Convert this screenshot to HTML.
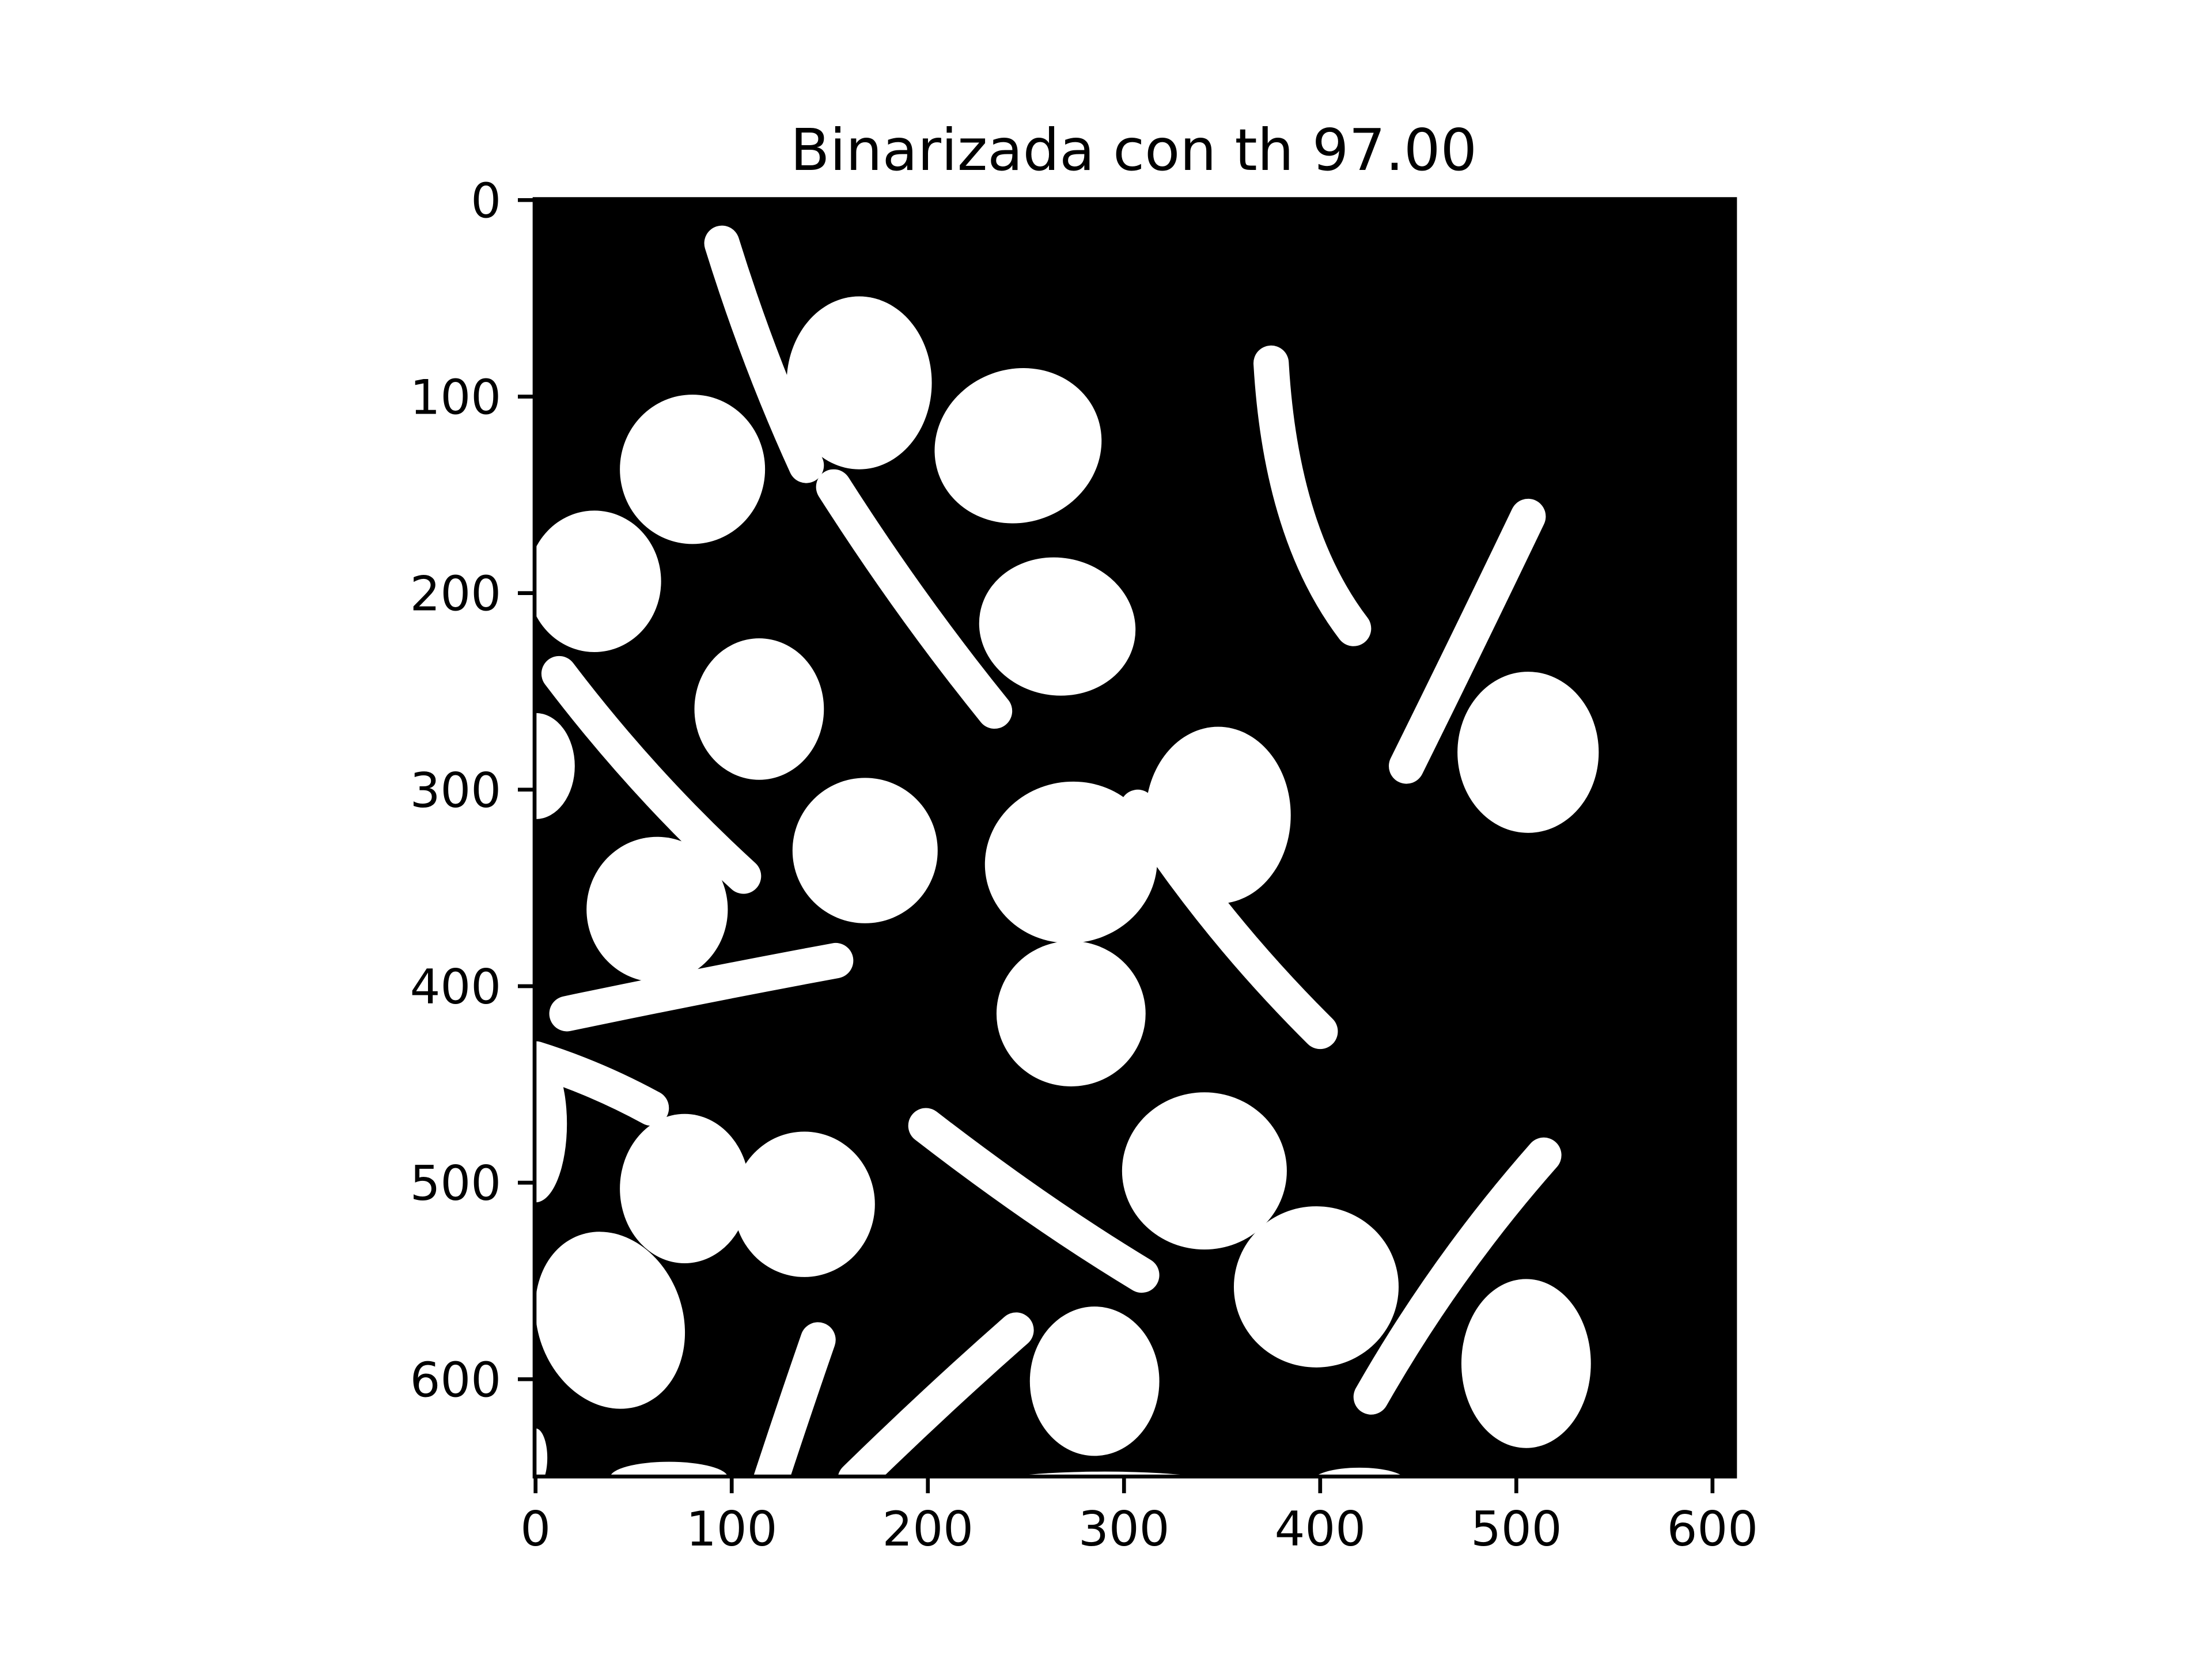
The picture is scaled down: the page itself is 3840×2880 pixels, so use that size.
<!DOCTYPE html>
<html><head><meta charset="utf-8"><style>
html,body{margin:0;padding:0;background:#fff;}
svg{display:block;}
text{font-family:"DejaVu Sans","Liberation Sans",sans-serif;fill:#000;}
</style></head><body>
<svg id="fig" width="3840" height="2880" xmlns="http://www.w3.org/2000/svg">
<rect width="3840" height="2880" fill="#fff"/>
<text x="1968" y="295" font-size="100" text-anchor="middle">Binarizada con th 97.00</text>
<svg id="img" x="928" y="345.6" width="2084" height="2217.6" viewBox="-0.5 -0.5 612 650" preserveAspectRatio="none">
<rect x="-0.5" y="-0.5" width="612" height="650" fill="#000"/>
<g id="shapes" fill="#fff"></g>
</svg>
<rect x="928" y="345.6" width="2084" height="2217.6" fill="none" stroke="#000" stroke-width="6.7"/>
<g id="ticks"></g>
</svg>
<script>
const blobCx=[165,80,246,30,266,114,0,506,168,273,348,62,273,341,76,137,398,38,505,285,68,290,420,0,0];
const blobCy=[93,137,125,194,217,259,288,281,331,337,313,361,414,494,503,511,553,570,592,601,650,655,652,640,470];
const blobRx=[37,37,43,34,40,33,20,36,37,44,37,36,38,42,33,36,42,37,33,33,30,65,24,6,16];
const blobRy=[44,38,39,36,35,36,27,41,37,41,45,37,37,40,38,37,41,46,43,38,8,8,7,15,40];
const blobRot=[0,0,-20,0,10,0,0,0,0,-10,0,0,0,0,0,0,0,-20,0,0,0,0,0,0,0];
const stickX1=[95,152,375,506,12,16,0,199,307,514,144,245];
const stickY1=[22,146,83,161,241,414,437,471,309,486,580,575];
const stickXm=[115,192,388,475,57,85,30,255,350,467,132,204];
const stickYm=[80,205,160,225,295,400,448,512,368,545,615,612];
const stickX2=[138,234,417,444,106,153,59,309,400,426,120,163];
const stickY2=[135,260,218,288,344,387,462,547,423,609,651,651];
const xTicks=[0,100,200,300,400,500,600];
const yTicks=[0,100,200,300,400,500,600];
const NS="http://www.w3.org/2000/svg";
const g=document.getElementById('shapes');
for(let i=0;i<blobCx.length;i++){
  const e=document.createElementNS(NS,'ellipse');
  e.setAttribute('cx',blobCx[i]);e.setAttribute('cy',blobCy[i]);
  e.setAttribute('rx',blobRx[i]);e.setAttribute('ry',blobRy[i]);
  e.setAttribute('transform','rotate('+blobRot[i]+' '+blobCx[i]+' '+blobCy[i]+')');
  
  
  g.appendChild(e);
}
for(let i=0;i<stickX1.length;i++){
  const p=document.createElementNS(NS,'path');
  p.setAttribute('d','M'+stickX1[i]+' '+stickY1[i]+' Q'+(2*stickXm[i]-(stickX1[i]+stickX2[i])/2)+' '+(2*stickYm[i]-(stickY1[i]+stickY2[i])/2)+' '+stickX2[i]+' '+stickY2[i]);
  p.setAttribute('stroke','#fff');p.setAttribute('stroke-width','18');p.setAttribute('fill','none');p.setAttribute('stroke-linecap','round');
  
  
  g.appendChild(p);
}
const L=928,T=345.6,W=2084,H=2217.6,ppu=W/612;
const xs=v=>L+(v+0.5)*ppu, ys=v=>T+(v+0.5)*(H/650);
const tg=document.getElementById('ticks');
xTicks.forEach(v=>{
  const l=document.createElementNS(NS,'line');
  l.setAttribute('x1',xs(v));l.setAttribute('x2',xs(v));l.setAttribute('y1',T+H);l.setAttribute('y2',T+H+29);
  l.setAttribute('stroke','#000');l.setAttribute('stroke-width','6.7');
  
  
  tg.appendChild(l);
  const t=document.createElementNS(NS,'text');
  t.setAttribute('x',xs(v));t.setAttribute('y',T+H+29+29+62);t.setAttribute('font-size','83');t.setAttribute('text-anchor','middle');
  t.textContent=v;
  
  
  tg.appendChild(t);
});
yTicks.forEach(v=>{
  const l=document.createElementNS(NS,'line');
  l.setAttribute('y1',ys(v));l.setAttribute('y2',ys(v));l.setAttribute('x1',L);l.setAttribute('x2',L-29);
  l.setAttribute('stroke','#000');l.setAttribute('stroke-width','6.7');
  
  
  tg.appendChild(l);
  const t=document.createElementNS(NS,'text');
  t.setAttribute('x',L-29-29);t.setAttribute('y',ys(v)+30);t.setAttribute('font-size','83');t.setAttribute('text-anchor','end');
  t.textContent=v;
  
  
  tg.appendChild(t);
});
</script>
</body></html>
